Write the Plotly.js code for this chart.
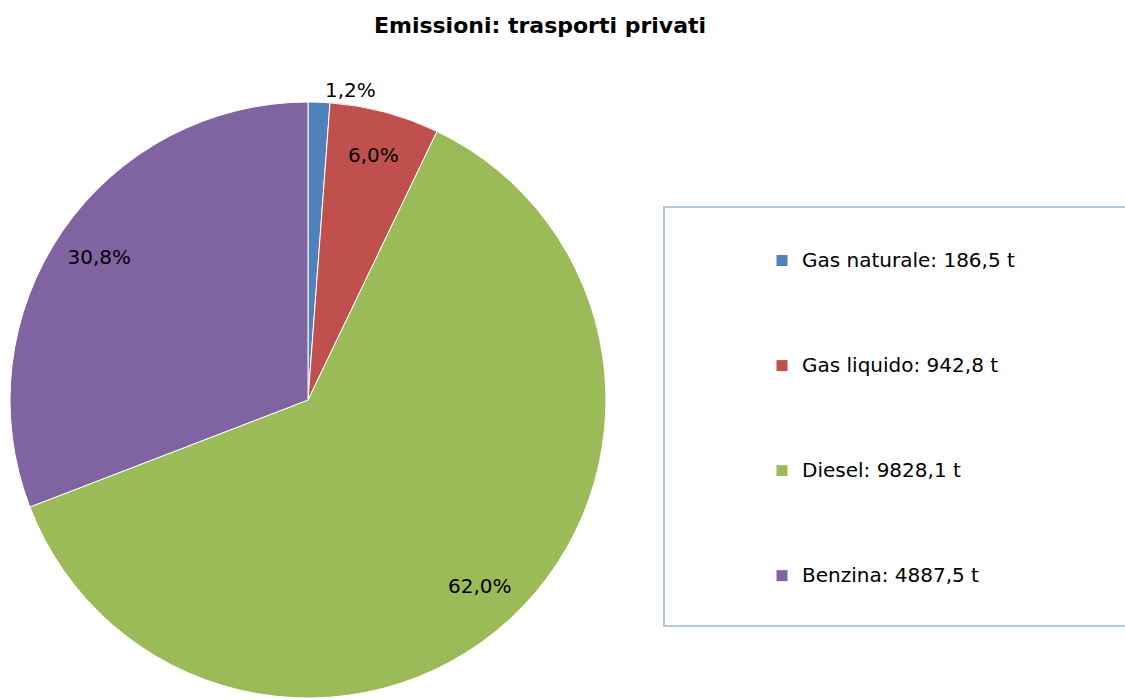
<!DOCTYPE html>
<html>
<head>
<meta charset="utf-8">
<script src="https://cdn.plot.ly/plotly-3.0.1.min.js"></script>
<style>html,body{margin:0;padding:0;background:#fff;}#chart{width:1125px;height:700px;}</style>
</head>
<body>
<div id="chart"></div>
<script>
const categories = ["Gas naturale", "Gas liquido", "Diesel", "Benzina"];
const values = [186.5, 942.8, 9828.1, 4887.5];
const valueLabels = ["186,5", "942,8", "9828,1", "4887,5"];
const unit = "t";
const colors = ["#4f81bd", "#c0504d", "#9bbb59", "#8064a2"];

const FONT = "'DejaVu Sans', Verdana, sans-serif";
const legendNames = categories.map((c, i) =>
  "&nbsp;<br>&nbsp;<br><span style='font-size:20px'>" + c + ": " + valueLabels[i] + " " + unit + "</span><br>&nbsp;<br>&nbsp;");
const pieDomain = {x: [8/1125, 608/1125], y: [2/700, 598/700]};

const slices = {
  type: "pie",
  labels: legendNames,
  values: values,
  sort: false,
  direction: "clockwise",
  rotation: 0,
  marker: {colors: colors, line: {color: "#ffffff", width: 1}},
  textinfo: "none",
  hoverinfo: "label+value+percent",
  domain: pieDomain,
  automargin: false,
  showlegend: true
};

// transparent ring carrying the percentage labels near the rim
const labelsRing = {
  type: "pie",
  labels: legendNames,
  values: values,
  sort: false,
  direction: "clockwise",
  rotation: 0,
  hole: 0.7,
  marker: {colors: ["rgba(0,0,0,0)","rgba(0,0,0,0)","rgba(0,0,0,0)","rgba(0,0,0,0)"], line: {width: 0}},
  texttemplate: "%{percent:.1%}",
  textposition: ["outside", "inside", "inside", "inside"],
  insidetextorientation: "horizontal",
  textfont: {family: FONT, size: 20, color: "#000000"},
  insidetextfont: {family: FONT, size: 20, color: "#000000"},
  outsidetextfont: {family: FONT, size: 20, color: "#000000"},
  hoverinfo: "skip",
  domain: pieDomain,
  automargin: false,
  showlegend: false
};

const layout = {
  width: 1125,
  height: 700,
  margin: {l: 0, r: 0, t: 0, b: 0, autoexpand: false},
  paper_bgcolor: "#ffffff",
  separators: ",.",
  title: {
    text: "<b>Emissioni: trasporti privati</b>",
    x: 540/1125, xanchor: "center", xref: "paper",
    y: 1 - 25/700, yanchor: "middle", yref: "paper",
    font: {family: FONT, size: 22, color: "#000000"}
  },
  showlegend: true,
  legend: {
    x: 762/1125, xanchor: "left",
    y: 1 - 203/700, yanchor: "top",
    bgcolor: "rgba(0,0,0,0)",
    borderwidth: 0,
    font: {family: FONT, size: 15.7, color: "#000000"},
    valign: "middle",
    traceorder: "normal"
  },
  shapes: [{
    type: "rect", xref: "paper", yref: "paper",
    x0: 664/1125, x1: 1.01, y0: 1 - 626/700, y1: 1 - 207/700,
    line: {color: "#b3c7e6", width: 2},
    fillcolor: "rgba(0,0,0,0)",
    layer: "below"
  }]
};

Plotly.newPlot("chart", [slices, labelsRing], layout, {displayModeBar: false, responsive: false});
</script>
</body>
</html>
